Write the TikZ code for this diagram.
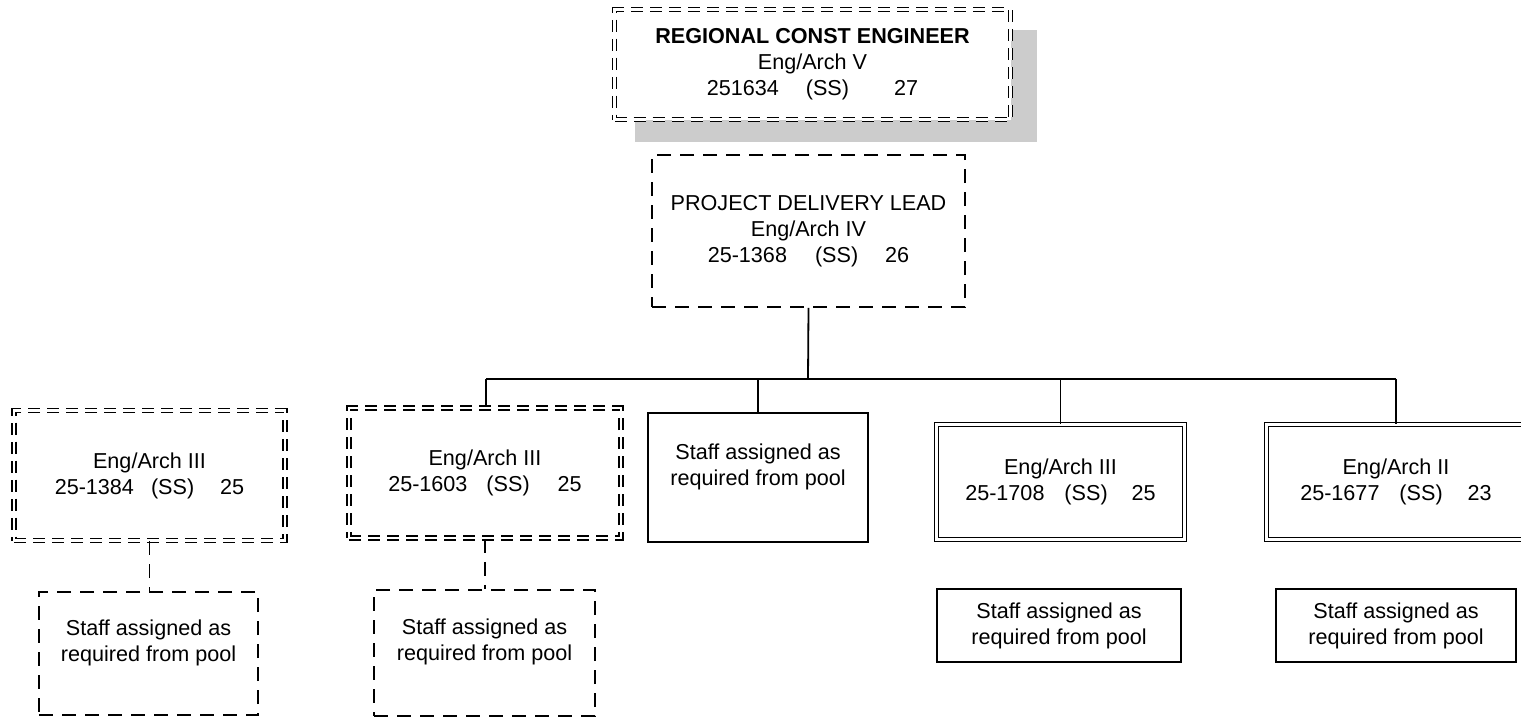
\documentclass[tikz,border=0pt]{standalone}
\usepackage{fontspec}
\setmainfont{Liberation Sans}
\begin{document}
\begin{tikzpicture}[x=0.5pt,y=-0.5pt,
  every node/.style={font=\fontsize{10.8pt}{13pt}\selectfont, align=center, inner sep=0pt},
  lw/.style={line width=0.9pt},
  solidbox/.style={draw=black, lw, fill=white, rectangle},
  dashbox/.style={draw=black, lw, fill=white, rectangle, dash pattern=on 7pt off 4.5pt},
  dbldash/.style={draw=black, line width=0.8pt, double, double distance=1.3pt, fill=white, rectangle, dash pattern=on 6pt off 3.5pt},
  dblsolid/.style={draw=black, line width=0.8pt, double, double distance=1.3pt, fill=white, rectangle},
  conn/.style={draw=black, lw},
  dconn/.style={draw=black, lw, dash pattern=on 7pt off 4.5pt}
]
\useasboundingbox (0,0) rectangle (1521,720);
\clip (0,0) rectangle (1521,720);

% shadow of top box
\fill[fill={rgb,255:red,204;green,204;blue,204}] (635,30) rectangle (1037,142);

% top box
\node[dbldash, minimum width=198pt, minimum height=55pt] (rce) at (812.5,64.5)
  {\textbf{REGIONAL CONST ENGINEER}\\Eng/Arch V\\251634\hspace{13.5pt}(SS)\hspace{22.5pt}27};

% project delivery lead
\node[dashbox, minimum width=156.5pt, minimum height=76pt] (pdl) at (808.5,231)
  {PROJECT DELIVERY LEAD\\Eng/Arch IV\\25-1368\hspace{14pt}(SS)\hspace{13.5pt}26};

% second row
\node[dbldash, minimum width=135.5pt, minimum height=65pt] (e1) at (149.5,475.5)
  {Eng/Arch III\\25-1384\hspace{8.5pt}(SS)\hspace{13pt}25};
\node[dbldash, minimum width=136pt, minimum height=65pt] (e2) at (485,473)
  {Eng/Arch III\\25-1603\hspace{9.5pt}(SS)\hspace{14pt}25};
\node[solidbox, minimum width=110pt, minimum height=64.5pt] (s3) at (758,477.5)
  {Staff assigned as\\required from pool\\\mbox{}};
\node[dblsolid, minimum width=124pt, minimum height=57.5pt] (e4) at (1060.5,482)
  {Eng/Arch III\\25-1708\hspace{10pt}(SS)\hspace{12pt}25};
\node[dblsolid, minimum width=129.5pt, minimum height=57.5pt] (e5) at (1396,482)
  {Eng/Arch II\\25-1677\hspace{10pt}(SS)\hspace{12.5pt}23};

% third row
\node[dashbox, minimum width=109.5pt, minimum height=61.5pt] (s1) at (148.5,653.5)
  {Staff assigned as\\required from pool\\\mbox{}};
\node[dashbox, minimum width=110.5pt, minimum height=63pt] (s2) at (484.5,653)
  {Staff assigned as\\required from pool\\\mbox{}};
\node[solidbox, minimum width=122pt, minimum height=36.5pt] (s4) at (1059,625.5)
  {Staff assigned as\\required from pool};
\node[solidbox, minimum width=120pt, minimum height=36.5pt] (s5) at (1396,625.5)
  {Staff assigned as\\required from pool};

% connectors
\coordinate (bus) at (808,379);
\coordinate (busL) at (486,379);
\coordinate (busR) at (1396,379);
\draw[conn] (pdl.south) -- (bus);
\draw[conn] (busL) -- (busR);
\draw[conn] (busL) -- (e2.north -| busL);
\draw[conn] (s3.north |- bus) -- (s3.north);
\draw[conn] (e4.north |- bus) -- (e4.north);
\draw[conn] (busR) -- (e5.north);
\draw[dconn] (e1.south) -- (s1.north -| e1.south);
\draw[dconn] (e2.south) -- (s2.north -| e2.south);
\end{tikzpicture}
\end{document}
